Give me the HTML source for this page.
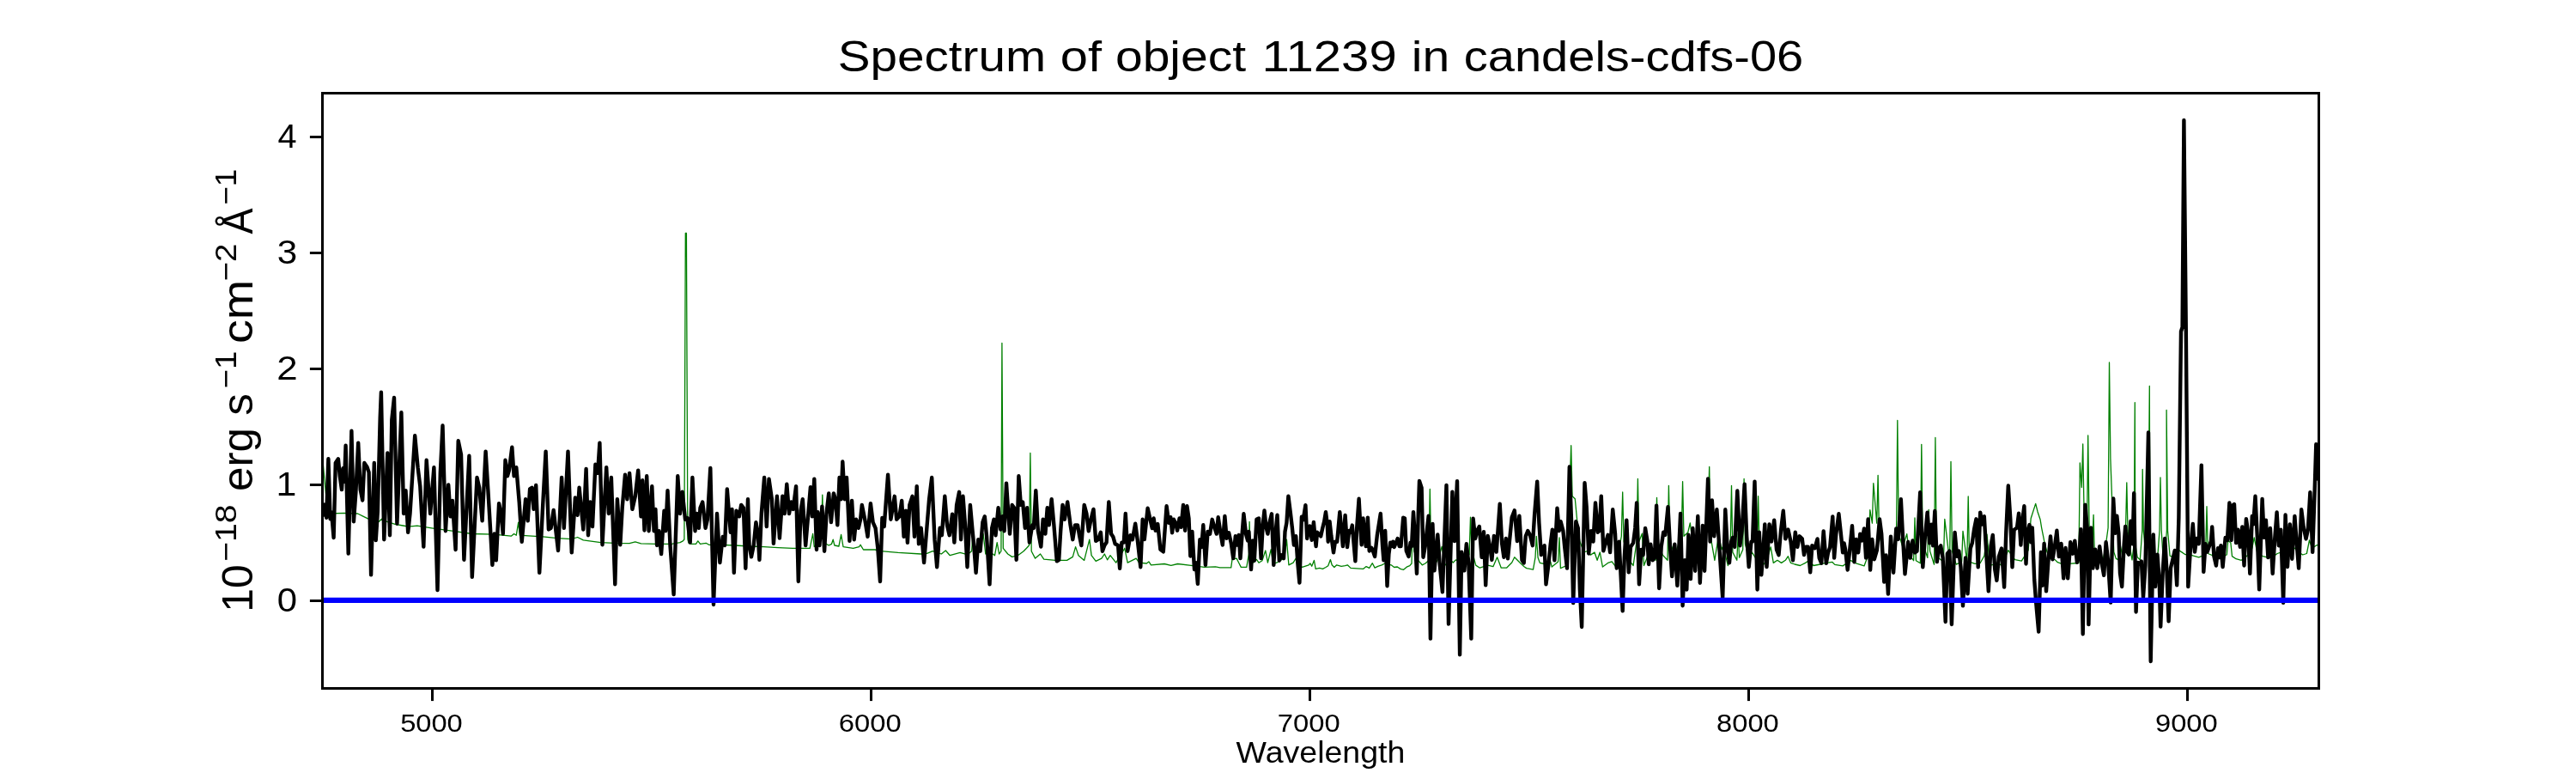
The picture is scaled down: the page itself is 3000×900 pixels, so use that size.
<!DOCTYPE html>
<html><head><meta charset="utf-8"><style>
html,body{margin:0;padding:0;background:#fff;}
body{width:3000px;height:900px;overflow:hidden;}
svg{display:block;font-family:"Liberation Sans",sans-serif;}
</style></head><body>
<svg width="3000" height="900" viewBox="0 0 3000 900">
<rect x="0" y="0" width="3000" height="900" fill="#fff"/>
<defs><clipPath id="ax"><rect x="375.5" y="108.5" width="2325.0" height="693.0"/></clipPath></defs>
<g clip-path="url(#ax)" fill="none" stroke-linejoin="round" stroke-linecap="butt">
<polyline points="376.2,539.0 379.3,573.2 382.4,598.0 401.1,597.4 416.6,598.0 422.8,601.1 429.0,604.2 441.4,607.3 444.5,604.2 450.7,607.3 460.1,610.4 469.4,612.0 475.8,613.1 485.9,612.1 502.7,614.8 526.3,618.2 549.8,621.5 575.1,622.2 585.2,623.2 595.3,624.2 598.6,621.5 601.3,623.2 603.7,608.1 605.3,623.2 615.4,623.9 632.2,624.9 649.0,626.6 665.8,627.6 672.6,625.5 679.3,628.9 699.5,631.6 716.3,632.3 733.1,632.6 739.8,630.9 746.5,632.9 765.1,633.3 781.9,633.3 792.0,631.6 795.3,629.9 796.9,628.0 798.3,271.5 799.4,271.5 800.9,628.0 802.1,632.3 805.4,633.3 810.5,633.3 812.8,629.9 815.5,633.3 822.2,632.3 825.6,634.3 839.0,634.3 855.8,635.0 872.6,636.0 889.5,636.6 906.3,637.6 923.1,638.3 943.2,638.3 945.3,628.2 946.6,621.5 948.3,636.6 951.7,633.3 956.4,628.2 957.8,576.1 959.2,631.6 965.2,635.0 968.5,633.3 970.2,628.2 971.9,635.0 976.9,636.0 979.6,622.5 982.0,636.6 993.7,638.3 1000.5,636.6 1002.1,634.3 1005.5,640.0 1018.9,640.0 1025.7,641.7 1045.8,643.4 1072.7,645.0 1079.5,644.4 1086.2,641.7 1096.3,645.0 1101.3,641.0 1106.3,646.7 1118.1,643.4 1126.5,645.7 1131.6,641.7 1133.2,618.2 1134.9,641.7 1145.1,621.5 1147.8,645.0 1151.8,641.7 1158.5,646.7 1161.2,631.6 1163.6,645.0 1165.9,641.7 1166.9,399.5 1168.3,638.3 1173.7,645.0 1178.7,648.4 1185.4,646.7 1192.1,641.7 1195.5,638.3 1198.5,635.0 1199.9,527.4 1201.2,641.7 1205.6,650.1 1211.6,645.0 1215.7,651.1 1229.1,652.4 1242.6,652.4 1249.3,648.4 1252.6,636.6 1256.0,646.7 1262.7,652.4 1268.8,628.2 1271.1,646.7 1276.2,653.4 1282.9,650.1 1286.3,645.0 1289.6,651.8 1293.0,646.7 1299.7,655.1 1309.8,638.3 1313.2,655.1 1323.2,650.1 1326.6,655.1 1335.3,656.0 1337.9,653.9 1340.5,657.8 1356.0,656.5 1363.8,658.3 1371.6,656.5 1387.1,658.3 1402.6,660.4 1415.6,659.9 1420.7,660.9 1433.7,660.9 1435.0,651.4 1440.1,650.1 1442.7,655.2 1445.3,660.4 1451.8,660.4 1454.4,644.9 1455.1,607.4 1456.2,644.9 1459.5,655.2 1463.4,651.4 1466.0,655.2 1469.9,652.7 1473.8,641.0 1476.4,655.2 1480.2,639.7 1482.8,656.5 1486.7,655.2 1490.6,652.7 1495.8,650.1 1498.4,628.1 1500.9,657.8 1506.1,655.2 1509.2,650.1 1511.3,655.2 1516.5,660.4 1524.2,657.8 1525.9,656.0 1527.7,659.3 1530.4,652.4 1532.2,662.4 1536.7,661.4 1540.4,662.4 1544.0,660.5 1546.7,658.7 1549.4,651.5 1551.2,657.8 1553.9,660.5 1556.7,657.8 1562.1,659.3 1566.6,658.7 1569.3,657.8 1573.0,661.4 1580.2,661.8 1587.5,662.4 1591.1,659.6 1594.7,661.4 1598.3,655.7 1601.1,661.1 1604.7,659.3 1609.2,657.8 1612.8,656.0 1620.1,657.8 1623.7,660.5 1627.3,660.0 1630.9,662.4 1634.6,663.3 1638.2,660.2 1641.8,658.7 1644.0,656.0 1645.4,596.2 1646.8,641.5 1650.0,650.6 1656.3,657.8 1659.9,656.0 1663.9,652.4 1665.3,569.5 1666.7,642.6 1670.5,658.1 1675.2,650.4 1679.2,636.4 1683.0,658.1 1689.2,651.9 1692.3,655.0 1695.4,651.9 1701.6,655.0 1711.1,645.7 1712.5,602.2 1713.9,639.5 1718.7,658.1 1723.4,661.2 1732.7,658.1 1738.9,659.7 1743.6,648.8 1748.3,661.2 1754.5,661.2 1760.7,655.0 1763.8,648.8 1770.0,655.0 1775.0,659.7 1777.8,661.6 1785.5,663.2 1788.0,649.2 1789.3,624.3 1791.1,649.2 1793.3,655.4 1801.1,657.0 1805.7,653.9 1807.3,660.1 1814.6,653.9 1816.0,625.9 1817.4,661.6 1824.4,658.5 1828.3,562.2 1829.7,518.7 1831.1,577.7 1834.3,580.8 1836.8,607.2 1839.9,630.6 1844.6,643.0 1849.3,641.4 1852.4,646.1 1857.0,643.0 1860.1,652.3 1863.3,643.0 1866.4,660.1 1872.6,655.4 1877.2,653.9 1881.9,660.1 1888.3,624.3 1889.7,573.0 1891.1,630.6 1897.4,652.3 1902.1,658.5 1906.0,630.6 1907.4,557.5 1908.8,630.6 1912.4,621.2 1914.5,658.5 1920.7,643.0 1928.1,652.3 1929.5,579.3 1930.9,630.6 1936.3,646.1 1942.0,652.3 1943.4,565.3 1944.8,630.6 1950.3,646.1 1958.2,624.3 1959.6,560.6 1961.0,624.3 1965.8,619.7 1968.3,608.8 1971.4,633.7 1975.1,643.0 1979.8,630.6 1984.5,646.1 1989.3,593.3 1990.7,543.5 1992.1,624.3 1996.9,652.3 2001.6,622.8 2005.0,639.9 2006.2,636.8 2009.3,646.1 2012.4,658.5 2015.1,639.9 2016.5,565.3 2017.9,643.0 2022.8,652.3 2024.2,621.2 2025.6,649.2 2029.7,639.9 2031.1,557.5 2032.5,633.7 2036.7,649.2 2040.4,643.0 2046.2,652.3 2047.6,577.7 2049.0,636.8 2052.8,658.5 2057.5,652.3 2062.2,636.8 2065.3,655.4 2069.9,652.3 2074.6,655.4 2079.3,652.3 2082.4,647.7 2085.5,655.4 2090.1,657.0 2096.4,658.5 2102.6,655.4 2107.2,652.3 2111.9,658.5 2120.0,657.0 2124.3,655.8 2133.7,654.3 2136.8,657.4 2146.1,658.9 2155.4,652.7 2161.6,655.8 2171.0,658.9 2175.6,646.5 2177.8,593.7 2180.4,609.2 2181.8,562.6 2185.7,609.2 2187.1,553.3 2188.5,621.6 2194.3,646.5 2202.0,652.7 2208.4,634.1 2209.8,489.5 2211.2,621.6 2216.0,637.2 2220.7,621.6 2223.8,646.5 2228.6,652.7 2230.0,603.0 2231.4,652.7 2236.4,655.8 2237.8,517.3 2239.2,632.3 2244.8,649.4 2246.2,593.5 2247.6,641.6 2252.5,657.2 2253.9,509.5 2255.3,647.9 2263.4,654.1 2264.8,604.3 2270.6,654.1 2272.0,537.5 2273.4,641.6 2278.2,657.2 2284.6,654.1 2286.0,618.3 2290.8,654.1 2292.2,577.9 2293.6,654.1 2300.0,656.3 2306.2,655.5 2310.9,647.0 2314.0,622.1 2316.3,647.0 2318.6,657.8 2328.0,656.3 2331.1,658.6 2338.8,640.7 2346.6,651.6 2354.3,653.2 2362.1,640.7 2365.2,603.5 2370.7,586.4 2373.0,595.7 2376.1,605.0 2377.6,614.3 2380.7,629.9 2383.9,642.3 2387.0,650.1 2393.2,651.6 2396.3,654.7 2400.9,656.3 2408.7,656.3 2420.9,655.5 2422.3,538.8 2424.3,567.4 2425.7,517.0 2427.1,597.6 2430.3,638.0 2431.7,506.9 2433.1,614.5 2436.7,638.0 2438.1,599.3 2439.5,654.8 2445.8,654.8 2449.2,651.4 2451.9,638.0 2455.1,614.5 2456.5,422.0 2457.9,534.0 2461.8,642.6 2464.3,650.4 2467.4,651.9 2469.0,633.3 2472.1,648.8 2475.5,617.7 2476.8,561.8 2478.0,617.7 2479.9,633.3 2483.0,651.9 2485.2,633.3 2486.3,468.6 2486.7,633.3 2489.2,648.8 2492.3,651.9 2494.8,617.7 2495.2,546.5 2496.3,617.7 2498.5,642.6 2501.9,627.0 2503.3,449.5 2503.8,627.0 2506.3,645.7 2512.5,651.9 2515.0,617.7 2516.0,556.0 2517.2,617.7 2518.7,642.6 2521.8,639.5 2523.4,617.7 2523.1,477.4 2524.5,617.7 2527.1,647.2 2531.2,648.8 2535.8,639.5 2540.5,642.6 2545.1,645.7 2549.8,645.7 2554.5,647.2 2560.7,648.8 2568.6,645.7 2570.0,589.7 2571.4,644.5 2582.4,649.1 2588.6,647.6 2593.3,646.0 2594.8,629.0 2597.9,632.1 2599.5,647.6 2604.1,650.7 2610.3,652.3 2616.6,647.6 2622.8,638.3 2625.2,625.9 2629.0,644.5 2635.2,647.6 2641.4,649.1 2647.6,647.6 2652.2,644.5 2656.9,642.9 2663.1,638.3 2669.3,635.2 2675.5,641.4 2681.7,646.0 2686.4,644.5 2689.5,629.0 2692.6,638.3 2697.3,635.2 2701.9,633.6" stroke="#008000" stroke-width="1.3"/>
<polyline points="376.2,585.6 377.8,599.6 379.3,594.9 380.2,602.7 382.4,534.3 384.6,604.2 386.1,596.5 388.6,626.0 390.8,539.0 393.9,534.3 395.8,554.5 398.0,570.1 399.5,545.2 401.1,560.7 402.6,518.8 405.7,644.6 409.4,501.7 411.9,607.3 414.4,573.2 417.2,515.7 419.7,570.1 422.2,582.5 424.3,539.0 427.5,543.7 429.6,549.9 432.1,669.4 435.8,539.0 437.7,629.1 439.9,594.9 442.7,486.2 443.9,456.8 447.3,628.2 451.3,527.4 454.0,623.2 456.3,488.7 459.0,462.9 462.4,609.7 467.4,480.3 470.1,598.0 472.5,571.1 475.2,619.8 477.5,598.0 483.2,507.2 486.6,544.2 489.3,566.1 493.3,636.6 496.7,535.8 501.1,598.0 505.4,544.2 509.5,687.1 512.8,550.9 515.5,495.5 518.9,618.2 522.2,564.4 524.6,601.3 526.9,582.9 530.6,640.0 533.7,513.3 537.0,529.1 540.4,651.8 546.4,530.8 549.8,671.9 555.5,556.0 558.2,567.7 561.6,606.4 565.6,525.7 568.3,569.4 571.0,614.8 573.4,657.8 575.8,621.5 577.8,652.4 581.1,586.2 583.5,598.0 585.8,621.5 588.5,535.8 590.9,554.3 592.9,547.6 596.3,520.7 598.6,554.3 601.3,544.2 604.7,584.5 607.7,630.9 612.1,581.2 614.7,606.4 617.1,569.4 619.5,567.7 621.5,592.9 624.2,565.0 628.2,666.9 632.2,587.9 635.6,525.7 638.9,616.5 641.6,614.8 644.7,593.9 647.4,618.2 650.0,641.0 654.1,556.0 656.8,614.8 661.5,525.7 665.8,643.4 669.9,579.5 672.6,599.7 674.6,567.7 676.9,591.3 679.3,616.5 682.6,545.9 685.0,623.2 687.4,584.5 690.0,613.1 693.4,540.8 696.1,550.9 698.4,515.6 701.5,634.3 706.2,544.2 708.9,598.0 711.9,556.0 716.3,680.3 718.9,581.2 722.3,634.3 724.7,591.3 728.0,552.6 730.4,581.2 733.1,550.9 736.4,592.9 739.8,577.8 743.2,547.6 746.5,601.3 748.2,559.3 750.5,617.5 753.2,554.3 755.6,618.2 759.3,566.1 761.6,618.2 763.4,592.9 765.1,635.0 767.4,618.2 770.1,645.0 773.5,594.6 775.2,618.2 777.5,571.1 780.5,635.0 784.6,692.1 789.3,554.3 792.0,598.0 794.7,572.8 798.0,604.7 800.4,603.0 803.7,631.6 806.4,556.0 809.5,618.2 811.5,598.0 813.8,614.8 815.5,591.3 818.2,584.5 821.6,614.8 823.9,604.7 827.3,544.9 831.0,704.0 835.0,598.0 838.4,655.1 841.7,624.9 844.1,635.0 846.8,569.4 850.8,619.8 852.5,592.9 854.8,666.9 857.5,594.6 860.9,601.3 863.2,587.9 865.9,591.3 868.3,661.8 871.0,581.2 872.6,635.0 875.0,648.4 877.7,635.0 880.4,608.1 882.7,621.5 884.4,651.8 886.8,598.0 890.1,556.0 892.8,613.1 895.5,557.6 898.9,581.2 900.9,632.9 904.9,577.8 907.9,626.6 911.3,577.8 913.7,598.0 916.3,563.7 919.0,598.0 921.4,584.5 923.7,592.9 927.1,566.1 929.8,677.0 932.5,594.6 934.8,581.2 938.2,635.0 941.6,594.6 943.9,567.1 945.9,601.3 948.3,557.6 951.0,640.0 952.4,596.3 954.4,635.0 957.4,589.6 960.1,641.7 962.5,598.0 965.2,574.5 967.9,608.1 970.9,574.5 972.9,581.2 975.3,611.4 977.6,556.0 979.6,581.2 981.3,537.5 983.7,581.2 986.0,556.0 989.4,629.9 992.1,582.9 994.7,628.2 997.1,604.7 999.8,614.8 1002.1,604.7 1003.8,587.9 1007.2,604.7 1010.5,624.9 1013.9,586.2 1016.6,608.1 1019.6,614.8 1022.3,638.3 1025.0,677.0 1027.4,603.0 1029.7,613.1 1034.1,552.6 1037.4,604.7 1041.8,577.8 1044.2,604.7 1047.5,601.3 1050.2,582.9 1052.6,624.9 1054.9,594.6 1056.9,631.9 1059.3,587.9 1062.6,577.8 1065.0,624.9 1067.7,566.1 1070.0,633.3 1072.7,614.8 1076.1,655.1 1079.5,613.1 1082.1,581.2 1085.2,556.0 1088.5,628.2 1091.2,660.2 1094.6,614.8 1096.9,623.2 1100.3,577.8 1103.0,611.4 1105.7,623.2 1109.0,598.7 1111.4,631.6 1114.1,587.9 1117.1,572.8 1119.1,628.2 1121.5,577.8 1123.8,608.1 1126.5,660.2 1129.9,587.9 1132.6,618.2 1134.2,635.0 1136.6,666.9 1139.3,628.2 1141.6,641.7 1144.4,608.1 1146.8,601.3 1149.1,624.9 1152.5,680.3 1155.2,614.8 1157.5,604.7 1159.5,623.2 1162.6,591.3 1165.3,616.5 1167.6,601.3 1169.6,618.2 1172.0,562.7 1174.3,598.0 1176.0,621.5 1178.7,587.9 1181.1,591.3 1183.7,651.8 1186.4,554.3 1188.8,587.9 1191.1,584.5 1193.8,614.8 1196.2,591.3 1198.9,631.6 1202.2,611.4 1203.9,614.8 1206.3,571.1 1208.9,618.2 1212.3,636.6 1214.7,604.7 1217.4,621.5 1219.7,591.3 1221.7,611.4 1224.7,581.2 1227.4,611.4 1230.8,653.4 1233.2,651.8 1235.2,618.2 1237.5,587.9 1239.9,604.7 1243.2,584.5 1246.6,611.4 1249.3,628.2 1252.0,611.4 1255.0,611.4 1257.0,623.2 1259.4,635.0 1262.7,587.9 1265.4,598.0 1267.8,618.2 1270.5,604.7 1273.5,592.9 1276.2,629.9 1278.9,628.2 1281.9,619.8 1283.9,641.7 1286.3,635.0 1288.6,631.6 1291.3,584.5 1294.0,621.5 1296.3,624.9 1298.7,633.3 1302.1,635.0 1304.1,661.8 1306.4,631.6 1308.8,631.6 1310.8,598.0 1313.2,641.7 1316.5,623.2 1318.9,628.2 1322.2,609.7 1324.9,629.9 1328.3,660.2 1330.7,604.8 1332.8,628.1 1336.6,591.8 1339.2,603.5 1341.8,615.1 1343.6,603.5 1345.7,617.7 1348.3,610.0 1351.4,639.7 1354.8,642.3 1358.6,589.3 1361.2,608.7 1363.3,602.2 1365.1,620.3 1366.9,604.8 1369.0,608.7 1371.1,617.7 1373.6,603.5 1375.5,613.8 1378.0,588.0 1380.1,617.7 1382.4,589.3 1384.5,603.5 1386.3,647.5 1388.4,619.0 1391.0,663.0 1392.8,655.2 1394.9,679.8 1397.4,628.1 1399.3,637.1 1401.3,611.3 1403.9,657.8 1406.5,619.0 1409.1,621.6 1411.7,604.8 1414.3,613.8 1416.8,621.6 1418.7,602.2 1421.2,619.0 1423.8,634.5 1426.4,600.9 1428.5,626.8 1431.1,620.3 1433.7,632.0 1436.3,650.1 1438.8,624.2 1440.7,634.5 1442.7,622.9 1444.5,650.1 1446.6,621.6 1448.4,598.3 1451.0,621.6 1453.1,629.4 1454.4,619.0 1457.0,663.0 1459.0,629.4 1460.8,652.7 1463.4,604.8 1466.0,603.5 1468.6,650.1 1470.7,611.3 1472.5,594.4 1474.5,613.8 1476.4,621.6 1478.4,608.7 1481.0,598.3 1483.3,657.8 1485.4,621.6 1487.5,599.6 1489.8,652.7 1492.4,646.2 1495.0,650.1 1496.5,619.0 1498.4,608.7 1500.4,577.6 1503.0,598.3 1504.8,613.8 1506.9,634.5 1509.2,624.2 1511.3,655.2 1513.4,678.5 1515.9,601.7 1517.7,605.3 1520.4,588.1 1522.2,627.0 1524.1,616.2 1525.5,612.5 1527.7,628.8 1529.9,608.0 1531.3,623.4 1532.6,636.1 1534.0,619.8 1535.8,621.6 1538.2,624.3 1540.4,614.3 1542.2,607.1 1544.0,596.2 1545.8,610.7 1546.7,630.7 1548.5,607.1 1550.3,623.4 1553.0,643.3 1554.9,630.7 1557.2,630.7 1560.3,596.2 1562.5,619.8 1563.9,636.1 1566.6,599.9 1569.0,637.0 1571.2,618.0 1573.0,619.8 1574.8,611.6 1576.6,632.5 1578.4,653.3 1580.2,614.3 1582.6,580.8 1584.4,614.3 1585.7,634.3 1587.5,603.5 1589.3,623.4 1590.7,636.1 1592.9,602.6 1594.7,641.5 1597.4,637.9 1599.2,642.4 1601.1,647.9 1603.8,623.4 1607.8,598.0 1610.1,636.1 1611.4,652.4 1613.2,618.0 1614.3,647.0 1615.5,682.3 1617.4,645.1 1619.2,631.6 1620.4,636.1 1622.2,630.7 1623.7,637.0 1625.5,632.5 1627.7,627.0 1629.7,636.1 1631.5,636.1 1634.2,602.6 1636.0,603.5 1637.8,641.5 1640.5,647.9 1642.7,631.6 1644.0,636.1 1646.0,596.2 1647.8,623.4 1650.0,667.8 1651.8,596.2 1653.0,560.0 1655.6,568.0 1657.5,648.8 1659.7,636.4 1663.7,600.6 1665.9,743.6 1668.4,609.9 1670.5,664.3 1674.3,622.4 1676.8,658.1 1679.9,689.2 1684.5,564.9 1687.0,726.5 1691.4,572.6 1693.9,630.1 1697.0,560.2 1700.1,762.3 1702.2,642.6 1705.4,664.3 1707.8,633.3 1710.3,655.0 1713.4,743.6 1715.6,603.7 1718.1,627.0 1720.3,617.7 1722.8,613.0 1725.6,648.8 1728.0,619.3 1730.2,681.4 1732.7,623.9 1735.2,636.4 1737.4,651.9 1739.9,623.9 1742.7,642.6 1746.7,586.6 1749.2,633.3 1751.4,648.8 1753.8,627.0 1756.0,650.4 1760.7,602.2 1763.8,594.4 1766.9,630.1 1769.4,600.6 1772.5,652.3 1774.7,655.4 1776.8,624.3 1779.3,618.1 1781.8,622.8 1784.9,635.2 1787.1,599.5 1790.2,560.6 1792.4,608.8 1794.9,646.1 1798.6,635.2 1800.5,680.3 1803.6,655.4 1805.7,633.7 1807.9,616.6 1810.4,652.3 1813.5,591.7 1815.7,618.1 1817.6,607.2 1820.4,618.1 1822.2,636.8 1825.0,661.6 1827.8,543.5 1830.0,605.7 1832.2,702.1 1835.3,607.2 1837.8,615.0 1839.9,686.5 1842.1,730.0 1845.5,562.2 1847.7,590.1 1850.2,644.5 1853.0,618.1 1855.5,630.6 1858.0,585.5 1860.8,619.7 1862.6,618.1 1864.8,577.7 1867.3,641.4 1869.5,633.7 1872.6,622.8 1875.1,643.0 1878.2,593.3 1881.0,621.2 1882.8,661.6 1885.6,630.6 1889.7,711.4 1891.8,649.2 1894.3,605.7 1896.8,666.3 1899.0,636.8 1902.1,632.1 1904.3,615.0 1906.1,585.5 1908.9,680.3 1911.4,639.9 1913.6,646.1 1916.1,615.0 1918.6,630.6 1920.1,657.0 1922.3,633.7 1924.8,652.3 1927.0,649.2 1929.1,588.6 1932.2,685.0 1934.7,636.8 1937.2,619.7 1939.4,622.8 1942.5,590.1 1945.0,636.8 1947.2,671.0 1950.3,633.7 1953.4,681.8 1957.1,597.9 1959.6,705.2 1962.1,652.3 1964.3,686.5 1966.4,622.8 1968.9,674.1 1971.4,615.0 1974.2,664.7 1977.3,601.0 1979.8,678.7 1982.9,611.9 1985.1,664.7 1989.1,557.5 1991.6,630.6 1993.8,582.4 1996.3,624.3 1999.4,593.3 2002.5,639.9 2006.2,695.8 2009.3,593.3 2011.8,639.9 2014.0,655.4 2016.2,630.6 2018.0,625.9 2020.2,636.8 2023.3,571.5 2026.4,635.2 2028.6,618.1 2031.7,563.7 2034.2,624.3 2036.7,660.1 2039.5,630.6 2041.0,630.6 2043.5,560.6 2046.6,686.5 2048.8,619.7 2051.3,669.4 2052.8,649.2 2055.3,610.4 2057.5,660.1 2060.6,610.4 2063.1,630.6 2066.2,605.7 2069.0,639.9 2071.5,646.1 2074.0,618.1 2076.8,594.8 2079.3,627.4 2082.4,616.6 2085.5,630.6 2088.0,652.3 2090.8,619.7 2093.3,636.8 2095.7,624.3 2098.8,627.4 2101.0,646.1 2103.2,636.8 2105.7,636.8 2108.2,666.3 2110.4,635.2 2113.5,638.3 2116.6,627.4 2118.7,649.6 2121.2,655.8 2123.7,618.5 2126.8,655.8 2129.0,643.4 2131.2,637.2 2134.3,601.4 2136.1,649.6 2138.3,621.6 2141.4,598.3 2143.9,621.6 2146.1,643.4 2147.6,632.5 2149.2,640.3 2151.7,663.6 2153.9,643.4 2157.0,612.3 2159.5,654.3 2161.6,627.9 2164.1,643.4 2166.3,621.6 2168.5,629.4 2171.0,615.4 2173.1,649.6 2175.6,604.5 2178.1,663.6 2180.3,627.9 2182.8,651.2 2185.9,640.3 2189.0,604.5 2191.2,621.6 2194.3,677.6 2196.4,646.5 2198.9,691.6 2202.0,624.7 2205.1,666.7 2208.3,615.4 2210.7,627.9 2213.8,581.2 2216.0,624.7 2218.5,668.3 2222.2,631.0 2224.7,649.6 2227.5,629.4 2230.0,643.4 2232.5,641.6 2236.2,573.3 2239.3,660.3 2241.8,626.1 2244.6,596.6 2247.1,632.3 2249.3,610.6 2251.1,635.4 2253.3,595.0 2255.8,654.1 2258.0,638.5 2260.2,635.4 2262.6,649.4 2265.7,724.0 2267.9,644.7 2270.4,641.6 2272.9,727.0 2276.6,619.9 2279.1,647.9 2281.3,641.6 2283.5,660.3 2286.0,705.4 2289.1,649.4 2291.5,691.4 2294.7,638.5 2296.8,632.3 2299.0,616.8 2301.5,604.3 2303.7,660.3 2306.2,596.6 2308.3,610.6 2310.8,601.2 2313.3,644.7 2315.8,688.3 2318.6,635.4 2320.8,623.0 2323.3,663.4 2325.4,675.8 2327.9,647.9 2331.0,638.5 2334.1,683.6 2336.3,619.9 2338.8,565.5 2341.3,604.3 2343.5,660.3 2345.6,616.8 2349.0,614.5 2351.1,597.6 2353.4,634.6 2355.1,607.7 2357.4,589.2 2359.5,656.5 2361.1,621.2 2363.5,611.1 2365.2,631.3 2366.8,614.5 2369.2,675.0 2371.2,701.8 2374.2,735.5 2376.9,643.0 2378.6,681.7 2380.6,632.9 2383.0,688.4 2385.3,654.8 2388.0,624.5 2390.4,651.4 2392.7,638.0 2395.4,617.8 2397.8,648.1 2400.5,632.9 2403.2,673.3 2405.5,638.0 2408.2,673.3 2411.2,631.3 2413.9,644.7 2416.3,629.6 2418.9,654.8 2421.3,648.1 2423.3,616.1 2425.7,738.2 2428.4,587.6 2430.7,614.5 2432.4,727.1 2435.1,614.5 2437.4,661.5 2440.1,639.7 2442.5,661.5 2445.2,636.3 2447.5,654.8 2450.2,669.9 2452.6,631.3 2454.9,651.4 2458.1,701.6 2461.2,580.4 2463.4,620.8 2465.3,600.6 2467.4,620.8 2469.0,667.4 2471.2,683.0 2473.7,633.3 2475.2,613.0 2477.4,642.6 2479.2,645.7 2481.4,606.8 2483.6,633.3 2485.2,574.2 2487.6,712.5 2489.8,655.0 2491.7,656.6 2493.9,653.5 2496.0,695.4 2498.5,658.1 2502.0,503.5 2504.7,770.0 2507.8,622.4 2510.0,683.0 2512.5,645.7 2514.7,676.8 2516.2,729.6 2518.7,667.4 2521.2,627.0 2523.4,664.3 2525.6,723.4 2528.0,661.2 2530.2,651.9 2532.7,641.0 2535.2,681.4 2537.4,602.2 2540.0,386.0 2541.6,381.0 2543.4,139.9 2545.8,386.0 2548.3,683.0 2550.7,642.6 2553.8,609.9 2556.0,642.6 2558.2,627.0 2560.7,633.3 2563.8,541.6 2566.3,665.9 2568.5,633.3 2570.6,642.6 2575.0,629.9 2576.2,613.5 2578.4,647.6 2580.9,658.5 2583.0,638.3 2584.9,649.1 2586.4,635.2 2588.6,660.0 2591.7,625.9 2593.9,629.0 2596.4,585.5 2598.6,629.0 2600.1,588.6 2602.0,587.1 2604.1,632.1 2606.3,616.6 2608.8,636.7 2611.3,613.5 2613.5,658.5 2615.9,604.1 2618.1,619.7 2620.3,667.8 2622.8,601.0 2624.3,610.4 2626.5,577.8 2629.0,629.0 2631.1,686.4 2634.6,580.9 2636.7,625.9 2638.9,605.7 2641.4,649.1 2643.9,615.0 2646.7,667.8 2649.1,629.0 2651.6,596.4 2653.8,635.2 2656.3,616.6 2659.1,701.9 2661.6,599.5 2664.0,660.0 2666.8,610.4 2669.3,650.7 2672.4,601.0 2674.9,635.2 2677.1,661.6 2680.2,593.3 2682.7,613.5 2685.5,627.4 2687.9,616.6 2690.4,573.1 2693.2,642.9 2695.7,570.0 2697.3,517.2 2699.1,557.6 2701.9,542.1" stroke="#000" stroke-width="4.4"/>
<line x1="375.5" y1="698.9" x2="2700.5" y2="698.9" stroke="#0000ff" stroke-width="6.2"/>
</g>
<rect x="375.5" y="108.5" width="2325.0" height="693.0" fill="none" stroke="#000" stroke-width="3" stroke-linejoin="miter"/>
<g stroke="#000" stroke-width="3">
<line x1="360.9" y1="699.5" x2="375.5" y2="699.5"/>
<line x1="360.9" y1="564.5" x2="375.5" y2="564.5"/>
<line x1="360.9" y1="429.5" x2="375.5" y2="429.5"/>
<line x1="360.9" y1="294.5" x2="375.5" y2="294.5"/>
<line x1="360.9" y1="159.5" x2="375.5" y2="159.5"/>
<line x1="503.5" y1="801.5" x2="503.5" y2="816.1"/>
<line x1="1014.5" y1="801.5" x2="1014.5" y2="816.1"/>
<line x1="1525.5" y1="801.5" x2="1525.5" y2="816.1"/>
<line x1="2036.5" y1="801.5" x2="2036.5" y2="816.1"/>
<line x1="2547.5" y1="801.5" x2="2547.5" y2="816.1"/>
</g>
<g fill="#000" style="will-change:transform">
<text x="322.87" y="711.90" font-size="38.6" textLength="23.27" lengthAdjust="spacingAndGlyphs">0</text>
<text x="321.63" y="576.90" font-size="38.6" textLength="23.86" lengthAdjust="spacingAndGlyphs">1</text>
<text x="322.29" y="441.90" font-size="38.6" textLength="24.42" lengthAdjust="spacingAndGlyphs">2</text>
<text x="322.89" y="306.90" font-size="38.6" textLength="23.46" lengthAdjust="spacingAndGlyphs">3</text>
<text x="323.59" y="171.90" font-size="38.6" textLength="22.07" lengthAdjust="spacingAndGlyphs">4</text>
<text x="466.19" y="852.00" font-size="30.3" textLength="72.58" lengthAdjust="spacingAndGlyphs">5000</text>
<text x="976.83" y="852.00" font-size="30.3" textLength="72.95" lengthAdjust="spacingAndGlyphs">6000</text>
<text x="1487.82" y="852.00" font-size="30.3" textLength="72.96" lengthAdjust="spacingAndGlyphs">7000</text>
<text x="1999.08" y="852.00" font-size="30.3" textLength="72.70" lengthAdjust="spacingAndGlyphs">8000</text>
<text x="2509.97" y="852.00" font-size="30.3" textLength="72.81" lengthAdjust="spacingAndGlyphs">9000</text>
<text x="975.83" y="82.60" font-size="50" textLength="242.20" lengthAdjust="spacingAndGlyphs">Spectrum</text>
<text x="1234.77" y="82.60" font-size="50" textLength="48.24" lengthAdjust="spacingAndGlyphs">of</text>
<text x="1298.90" y="82.60" font-size="50" textLength="152.31" lengthAdjust="spacingAndGlyphs">object</text>
<text x="1469.60" y="82.60" font-size="50" textLength="157.08" lengthAdjust="spacingAndGlyphs">11239</text>
<text x="1643.88" y="82.60" font-size="50" textLength="44.42" lengthAdjust="spacingAndGlyphs">in</text>
<text x="1704.72" y="82.60" font-size="50" textLength="395.54" lengthAdjust="spacingAndGlyphs">candels-cdfs-06</text>
<text x="1439.64" y="888.00" font-size="35.0" textLength="196.78" lengthAdjust="spacingAndGlyphs">Wavelength</text>
<g transform="rotate(-90)">
<text x="-712.80" y="294.30" font-size="50" textLength="55.44" lengthAdjust="spacingAndGlyphs">10</text>
<text x="-653.94" y="275.30" font-size="35" textLength="66.64" lengthAdjust="spacingAndGlyphs">−18</text>
<text x="-571.97" y="294.30" font-size="50" textLength="113.82" lengthAdjust="spacingAndGlyphs">erg s</text>
<text x="-452.49" y="275.30" font-size="35" textLength="43.77" lengthAdjust="spacingAndGlyphs">−1</text>
<text x="-400.07" y="294.30" font-size="50" textLength="74.35" lengthAdjust="spacingAndGlyphs">cm</text>
<text x="-327.40" y="275.30" font-size="35" textLength="43.83" lengthAdjust="spacingAndGlyphs">−2</text>
<text x="-272.59" y="294.30" font-size="50" textLength="30.08" lengthAdjust="spacingAndGlyphs">Å</text>
<text x="-238.82" y="275.30" font-size="35" textLength="42.13" lengthAdjust="spacingAndGlyphs">−1</text>
</g>
</g>
</svg>
</body></html>
